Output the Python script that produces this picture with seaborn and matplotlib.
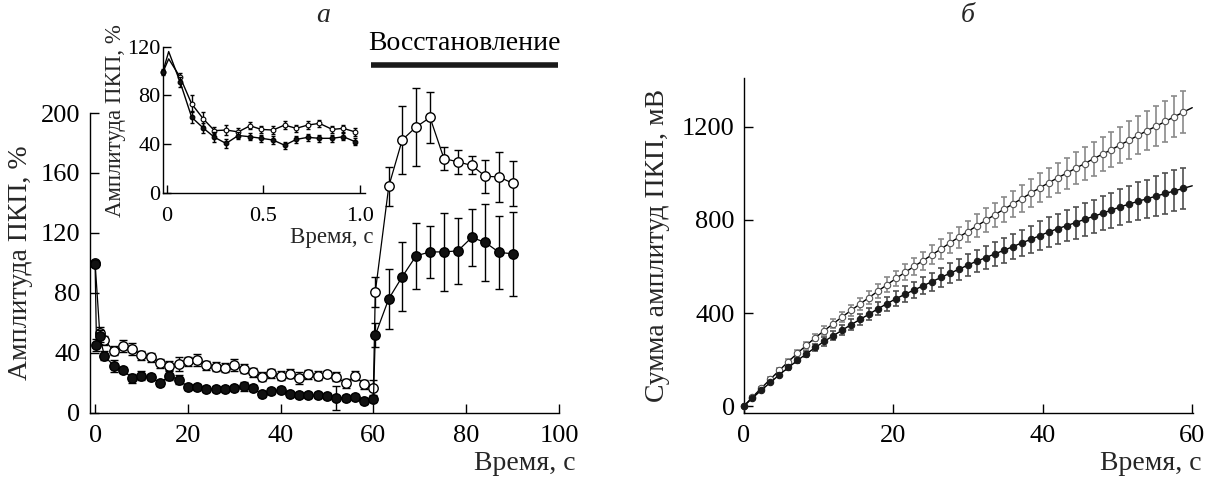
import numpy as np
import pandas as pd
import matplotlib
matplotlib.use("Agg")
import matplotlib.pyplot as plt
import seaborn as sns

# ---------------- data ----------------
# Panel a, main axes (time, s; amplitude, %)
a_t_black = [0, 0.3, 1, 2, 4, 6, 8, 10, 12, 14, 16, 18, 20, 22, 24, 26, 28, 30, 32, 34, 36, 38,
             40, 42, 44, 46, 48, 50, 52, 54, 56, 58, 60,
             60.4, 63.3, 66.2, 69.2, 72.2, 75.2, 78.2, 81.2, 84.1, 87.1, 90.1]
a_black = [99, 45, 51, 38, 31.4, 28.4, 23, 24.5, 23.5, 20, 24.5, 22, 17.4, 17, 16, 15.5, 15.5, 16.5,
           17.5, 16.2, 12.4, 14.5, 15, 12.5, 12, 11.5, 11.5, 11, 10, 10, 10.5, 7.8, 9,
           51.8, 76, 90.7, 104.7, 107.3, 107.3, 108, 117, 113.6, 107, 106]
a_black_err = [0, 4, 4, 3, 4, 2, 3, 3, 2, 2, 3, 3, 2, 2, 2, 2, 2, 2, 3, 2, 2, 2, 2, 2, 2, 2, 2, 2,
               8, 2, 2, 2, 2,
               8, 20, 23, 22, 17.5, 26, 22, 19, 26, 24.5, 28]

a_t_white = [0, 1, 2, 4, 6, 8, 10, 12, 14, 16, 18, 20, 22, 24, 26, 28, 30, 32, 34, 36, 38,
             40, 42, 44, 46, 48, 50, 52, 54, 56, 58, 60,
             60.4, 63.3, 66.2, 69.2, 72.2, 75.2, 78.2, 81.2, 84.1, 87.1, 90.1]
a_white = [100, 53, 48.5, 41.3, 44.5, 42.5, 38.5, 37, 33, 31.4, 32.5, 34.2, 35, 31.7, 30.6, 30,
           31.7, 29.2, 27, 24, 26.2, 24.5, 26, 23, 25.5, 24.5, 26, 24, 19.6, 24.5, 19, 16.7,
           80.5, 151, 182, 190.7, 197, 169.6, 167.4, 165, 157.8, 157.3, 153]
a_white_err = [0, 4, 3, 3, 4, 4, 3, 3, 3, 3, 5, 3, 4, 3, 3, 3, 4, 3, 3, 3, 3, 3, 3, 4, 3, 3, 2,
               3, 3, 3, 3, 5,
               10, 13, 23, 26, 17, 7.5, 8, 6, 11, 17, 15]

recovery_span = [59.5, 99.7]

# Panel a, inset (first second)
in_t = [-0.02, 0.01, 0.069, 0.129, 0.19, 0.247, 0.307, 0.37, 0.431, 0.49, 0.55, 0.61,
        0.67, 0.73, 0.79, 0.857, 0.914, 0.974]
in_white = [99, 110, 95, 73, 60.5, 51, 51.5, 50, 55, 52, 51.5, 55.6, 52.9, 55.6, 57, 52, 52.9, 50]
in_black = [99.5, 116, 91, 62, 53, 45.5, 40.5, 47, 46, 44.7, 43.3, 39, 43.8, 45.5, 44.7, 44.7, 46, 42]
in_white_err = [2, 0, 3, 7, 6, 3, 4, 3, 3, 3, 3, 3, 3, 3, 3, 3, 3, 3]
in_black_err = [2, 0, 4, 5, 4, 4, 4, 3, 3, 3, 3, 3, 3, 3, 3, 3, 3, 3]

# Panel b: cumulative sum of amplitudes (mV)
b_t = [0, 1.2, 2.4, 3.6, 4.8, 6.0, 7.2, 8.4, 9.6, 10.8, 12.0, 13.2, 14.4, 15.6, 16.8, 18.0,
       19.2, 20.4, 21.6, 22.8, 24.0, 25.2, 26.4, 27.6, 28.8, 30.0, 31.2, 32.4, 33.6, 34.8,
       36.0, 37.2, 38.4, 39.6, 40.8, 42.0, 43.2, 44.4, 45.6, 46.8, 48.0, 49.2, 50.4, 51.6,
       52.8, 54.0, 55.2, 56.4, 57.6, 58.8, 60.0]
b_white = [0, 40, 79, 117, 155, 192, 228, 262, 295, 325, 355, 384, 412, 440, 467, 495,
           522, 549, 575, 600, 625, 650, 675, 701, 726, 750, 774, 798, 822, 845,
           868, 891, 914, 937, 959, 980, 1000, 1021, 1041, 1062, 1082, 1101, 1122, 1142,
           1163, 1183, 1202, 1222, 1242, 1262, 1281]
b_black = [0, 36, 70, 103, 136, 167, 197, 225, 253, 279, 303, 327, 351, 373, 396, 419,
           441, 462, 481, 499, 517, 535, 553, 571, 588, 606, 623, 638, 654, 669,
           685, 701, 716, 732, 748, 762, 775, 788, 802, 815, 828, 842, 856, 868,
           880, 891, 902, 913, 924, 935, 946]
b_white_err = [0, 3, 5, 7, 9, 11, 12, 14, 16, 18, 20, 22, 23, 25, 27, 29, 31, 33, 34, 36,
               38, 40, 42, 43, 45, 47, 49, 51, 52, 54, 56, 58, 60, 62, 63, 65, 67, 69, 71, 72,
               74, 76, 78, 80, 81, 83, 85, 87, 88, 90, 92]
b_black_err = [0, 3, 5, 7, 9, 10, 12, 14, 16, 18, 19, 21, 23, 25, 27, 28, 30, 32, 34, 36,
               37, 39, 41, 43, 45, 46, 48, 50, 52, 54, 55, 57, 59, 61, 63, 64, 66, 68, 70, 72,
               73, 75, 77, 79, 81, 82, 84, 86, 88, 89, 91]

# ---------------- style ----------------
sns.set_theme(style="ticks")
plt.rcParams["font.family"] = ["Liberation Serif", "DejaVu Serif"]

W, H = 1214, 478
fig = plt.figure(figsize=(W / 100, H / 100), dpi=100)
fig.patch.set_facecolor("white")


def rect(x0, x1, ytop, ybot):
    return [x0 / W, 1 - ybot / H, (x1 - x0) / W, (ybot - ytop) / H]


def style_axes(ax, fs, ticklen, xpad, ypad):
    for s in ["top", "right"]:
        ax.spines[s].set_visible(False)
    for s in ["left", "bottom"]:
        ax.spines[s].set_color("black")
        ax.spines[s].set_linewidth(1.0)
    ax.set_facecolor("white")
    ax.tick_params(axis="x", direction="in", length=ticklen, width=1.0, labelsize=fs,
                   colors="black", pad=xpad)
    ax.tick_params(axis="y", direction="in", length=ticklen, width=1.0, labelsize=fs,
                   colors="black", pad=ypad)
    ax.set_xlabel("")
    ax.set_ylabel("")
    ax.grid(False)


def series(ax, x, y, err, filled, ms, mew, ecol, lcol="black", lw=0.9, capsize=3, elw=1.0,
           z=2, mcol="#111111", mec="black", marks=None):
    n = len(x)
    idx = list(range(n)) if marks is None else marks
    df = pd.DataFrame({"x": x, "y": y})
    xe = [x[i] for i in idx]
    ye = [y[i] for i in idx]
    ee = [err[i] for i in idx]
    cont = ax.errorbar(xe, ye, yerr=ee, fmt="none", ecolor=ecol, elinewidth=elw,
                       capsize=capsize, capthick=elw, zorder=z)
    for art in list(cont.lines[1]) + list(cont.lines[2]):
        art.set_clip_on(False)
    sns.lineplot(data=df, x="x", y="y", ax=ax, sort=False, color=lcol, lw=lw,
                 marker="o", markersize=ms, markevery=idx,
                 markerfacecolor=(mcol if filled else "white"),
                 markeredgecolor=mec, markeredgewidth=mew, zorder=z + 1,
                 clip_on=False)


# ---------- panel a main ----------
ax1 = fig.add_axes(rect(90, 559, 113, 412.7))
series(ax1, a_t_white, a_white, a_white_err, False, 6.8, 1.0, "black", capsize=2.6, z=2)
series(ax1, a_t_black, a_black, a_black_err, True, 6.8, 1.0, "black", capsize=2.6, z=4)
ax1.set_xlim(-1.1, 100)
ax1.set_ylim(0, 200)
ax1.set_xticks([0, 20, 40, 60, 80, 100])
ax1.set_yticks([0, 40, 80, 120, 160, 200])
style_axes(ax1, 19, 6.5, 8.5, 7)

trans = ax1.get_xaxis_transform()
ax1.plot(recovery_span, [1.160, 1.160], transform=trans, color="#1a1a1a", lw=4.0,
         solid_capstyle="butt", clip_on=False)
ax1.text(np.mean(recovery_span), 1.233, "Восстановление", transform=trans, ha="center",
         va="center", fontsize=20, color="black")

# ---------- inset ----------
axi = fig.add_axes(rect(162.7, 365, 46.7, 192.7))
mk = [i for i in range(len(in_t)) if i != 1]
series(axi, in_t, in_white, in_white_err, False, 3.4, 0.8, "black", capsize=1.6, elw=1.0,
       lw=1.0, z=2, marks=mk)
series(axi, in_t, in_black, in_black_err, True, 3.4, 0.8, "black", capsize=1.6, elw=1.0,
       lw=1.0, z=4, marks=mk)
axi.set_xlim(-0.021, 1.026)
axi.set_ylim(0, 120)
axi.set_xticks([0, 0.5, 1.0])
axi.set_xticklabels(["0", "0.5", "1.0"])
axi.set_yticks([0, 40, 80, 120])
style_axes(axi, 16, 6, 10.5, 1.5)
axi.patch.set_alpha(0)

# ---------- panel b ----------
ax2 = fig.add_axes(rect(743.5, 1193, 78.3, 412.7))
mb = list(range(len(b_t) - 1))
series(ax2, b_t, b_white, b_white_err, False, 4.6, 0.8, "#8a8a8a", capsize=1.9, elw=1.2,
       lw=1.0, z=2, mec="#555555", marks=mb)
series(ax2, b_t, b_black, b_black_err, True, 4.6, 0.8, "#505050", capsize=1.9, elw=1.2,
       lw=1.0, z=4, mcol="#1a1a1a", mec="#1a1a1a", marks=mb)
ax2.set_xlim(0, 60.1)
ax2.set_ylim(-27, 1407)
ax2.set_xticks([0, 20, 40, 60])
ax2.set_yticks([0, 400, 800, 1200])
style_axes(ax2, 19, 6.5, 8.5, 6.3)

# ---------- texts ----------
def ftext(x, y, s, **kw):
    fig.text(x / W, 1 - y / H, s, **kw)


ftext(21, 263, "Амплитуда ПКП, %", rotation=90, ha="center", va="center", fontsize=20)
ftext(576, 464, "Время, с", ha="right", va="center", fontsize=20)
ftext(116, 121, "Амплитуда ПКП, %", rotation=90, ha="center", va="center", fontsize=16.5)
ftext(373, 237, "Время, с", ha="right", va="center", fontsize=16.5)
ftext(657, 245, "Сумма амплитуд ПКП, мВ", rotation=90, ha="center", va="center", fontsize=20)
ftext(1201, 464, "Время, с", ha="right", va="center", fontsize=20)
ftext(323, 16, "а", ha="center", va="center", fontsize=20, style="italic")
ftext(968, 16, "б", ha="center", va="center", fontsize=20, style="italic")

fig.savefig("out.png", dpi=100, facecolor="white")
